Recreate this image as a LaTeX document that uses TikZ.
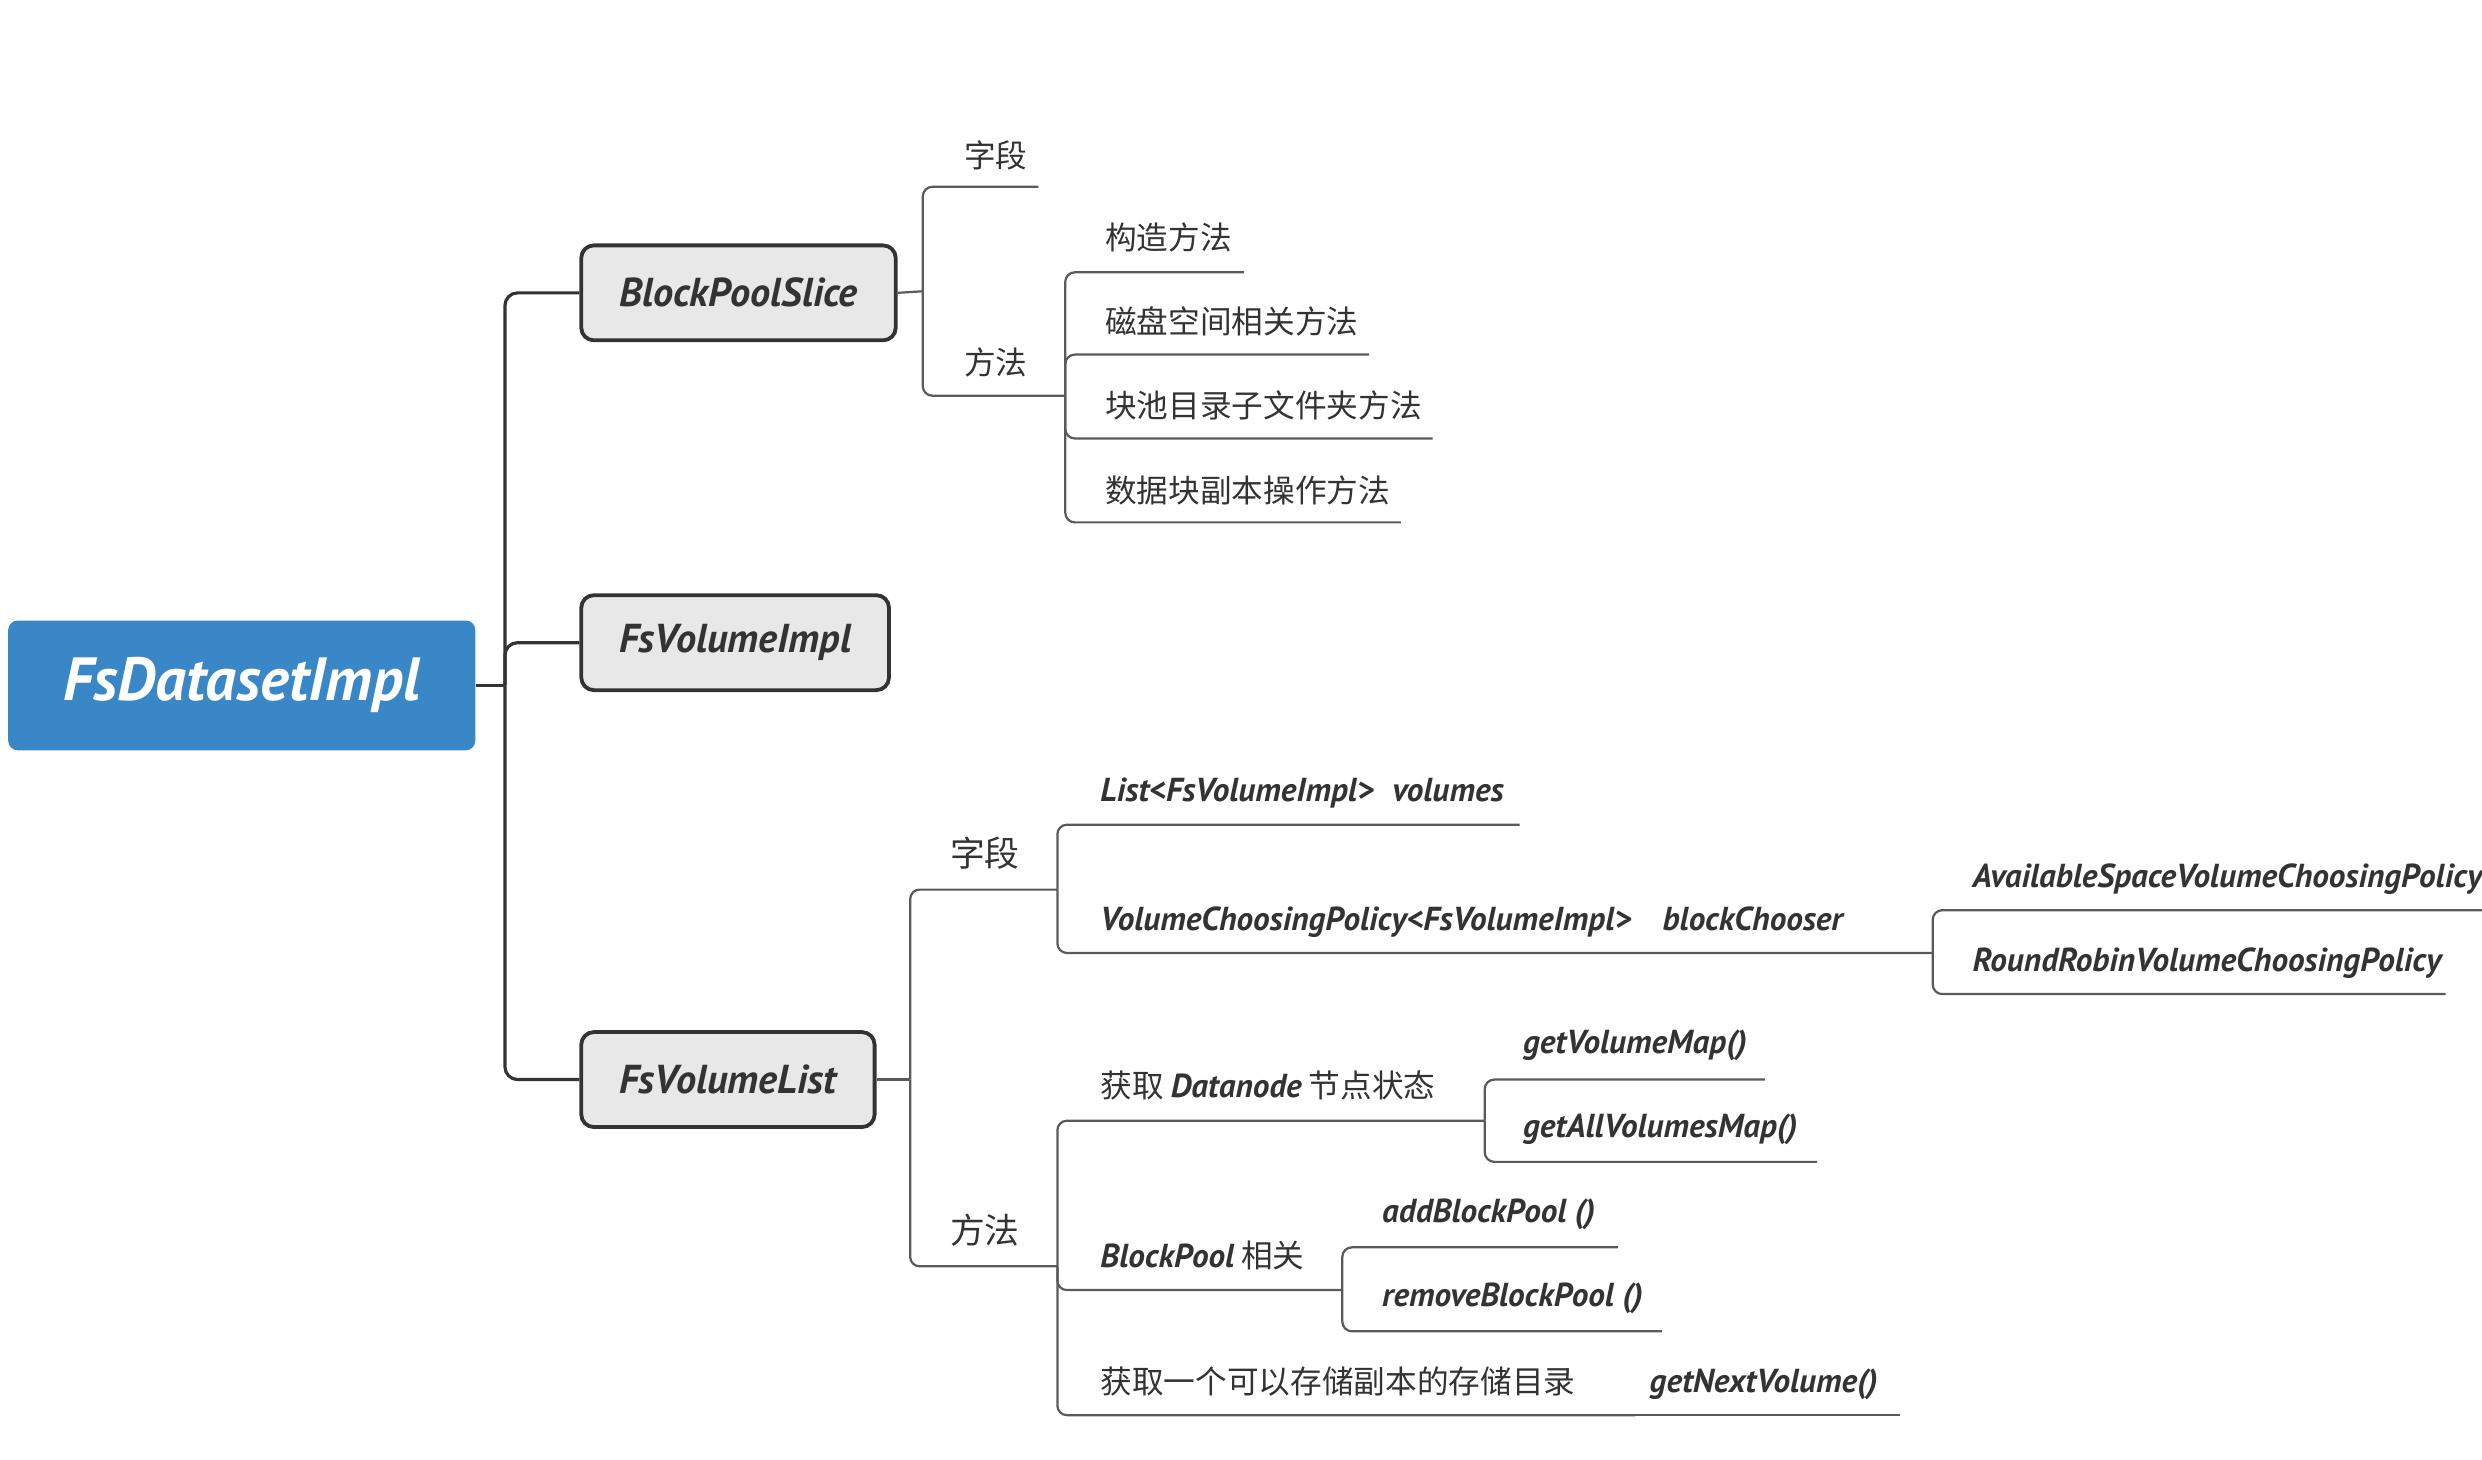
\documentclass[tikz,border=0pt]{standalone}
\usepackage{fontspec}
\setmainfont{PT Sans}
\newfontfamily\cjk{Noto Sans CJK SC}
\usetikzlibrary{positioning}
\definecolor{rootblue}{HTML}{3A87C8}
\definecolor{boxgray}{HTML}{E8E8E8}
\definecolor{linedark}{HTML}{333333}
\definecolor{linegray}{HTML}{5A5A5A}
\definecolor{textdark}{HTML}{333333}
\newcommand{\code}{\normalfont\bfseries\itshape}

\begin{document}
\begin{tikzpicture}[x=1pt,y=-1pt]
\tikzstyle{rootbox}=[fill=rootblue,rounded corners=6pt,text=white,inner xsep=35pt,
  minimum height=82pt,font=\code\fontsize{38.5}{44}\selectfont]
\tikzstyle{classbox}=[fill=boxgray,draw=linedark,line width=2.4pt,rounded corners=8pt,
  text=textdark,inner xsep=24pt,minimum height=60pt,font=\code\fontsize{25.5}{30}\selectfont]
\tikzstyle{zh}=[anchor=west,inner sep=0pt,yshift=-5pt,text=textdark,text height=0.72em,
  text depth=0.2em,font=\cjk\fontsize{20}{24}\selectfont]
\tikzstyle{member}=[anchor=west,inner sep=0pt,yshift=-4pt,text=textdark,text height=0.72em,
  text depth=0.2em,font=\code\fontsize{21}{24}\selectfont]
\tikzstyle{trunk}=[draw=linedark,line width=2pt,rounded corners=8pt]
\tikzstyle{twig}=[draw=linegray,line width=1.4pt,rounded corners=6pt]
\useasboundingbox (0,0) rectangle (1568,922);

% main topic and classes
\node[rootbox,anchor=west] (fsd) at (5,433) {FsDatasetImpl};
\node[classbox,anchor=west] (bps) at (366,185) {BlockPoolSlice};
\node[classbox,anchor=west] (fvi) at (366,406) {FsVolumeImpl};
\node[classbox,anchor=west] (fvl) at (366,682) {FsVolumeList};

% BlockPoolSlice
\node[zh] (bpsf) at (609,98) {字段};
\node[zh] (bpsm) at (609,229) {方法};
\node[zh] (gz) at (698,150) {构造方法};
\node[zh] (cp) at (698,203) {磁盘空间相关方法};
\node[zh] (kc) at (698,256) {块池目录子文件夹方法};
\node[zh] (sj) at (698,310) {数据块副本操作方法};

% FsVolumeList
\node[zh,font=\cjk\fontsize{22}{26}\selectfont] (fvlf) at (600,540) {字段};
\node[zh,font=\cjk\fontsize{22}{26}\selectfont] (fvlm) at (600,778) {方法};
\node[member] (lv) at (695,500) {List<FsVolumeImpl>\hspace{12pt}volumes};
\node[member] (vc) at (695,581) {VolumeChoosingPolicy<FsVolumeImpl>\hspace{20pt}blockChooser};
\node[member] (as) at (1246,554) {AvailableSpaceVolumeChoosingPolicy};
\node[member] (rr) at (1246,607) {RoundRobinVolumeChoosingPolicy};
\node[zh] (dn) at (695,686) {获取 {\code\fontsize{21}{24}\selectfont Datanode} 节点状态};
\node[member] (gv) at (962,659) {getVolumeMap()};
\node[member] (ga) at (962,712) {getAllVolumesMap()};
\node[zh] (bp) at (695,793) {{\code\fontsize{21}{24}\selectfont BlockPool} 相关};
\node[member] (ab) at (873,766) {addBlockPool ()};
\node[member] (rb) at (873,819) {removeBlockPool ()};
\node[zh] (nx) at (695,873) {获取一个可以存储副本的存储目录};
\node[member] (gn) at (1042,873) {getNextVolume()};

% ends of the underlines
\coordinate (fsd-j) at (319,433);
\coordinate (bps-j) at (583,184);
\coordinate (fvl-j) at (575,682);
\coordinate (bpsf-e) at (656,118);
\coordinate (bpsm-e) at (673,250);
\coordinate (gz-e) at (786,172);
\coordinate (cp-e) at (865,224);
\coordinate (kc-e) at (905,277);
\coordinate (sj-e) at (885,330);
\coordinate (fvlf-e) at (668,562);
\coordinate (fvlm-e) at (668,800);
\coordinate (lv-e) at (960,521);
\coordinate (vc-e) at (1221,602);
\coordinate (as-e) at (1568,575);
\coordinate (rr-e) at (1545,628);
\coordinate (dn-e) at (938,708);
\coordinate (gv-e) at (1115,682);
\coordinate (ga-e) at (1148,734);
\coordinate (bp-e) at (848,815);
\coordinate (ab-e) at (1022,788);
\coordinate (rb-e) at (1050,841);
\coordinate (nx-e) at (1033,894);
\coordinate (gn-e) at (1200,894);

% connectors
\draw[trunk] (fsd.east) -- (fsd-j);
\foreach \n in {bps,fvi,fvl}
  \draw[trunk] (fsd-j) |- (\n.west);
\draw[twig] (bps.east) -- (bps-j);
\draw[twig] (fvl.east) -- (fvl-j);
\foreach \p/\c in {bps-j/bpsf-e,bps-j/bpsm-e,bpsm-e/gz-e,bpsm-e/cp-e,bpsm-e/kc-e,bpsm-e/sj-e,
  fvl-j/fvlf-e,fvl-j/fvlm-e,fvlf-e/lv-e,fvlf-e/vc-e,vc-e/as-e,vc-e/rr-e,
  fvlm-e/dn-e,fvlm-e/bp-e,fvlm-e/nx-e,dn-e/gv-e,dn-e/ga-e,bp-e/ab-e,bp-e/rb-e}
  \draw[twig] (\p) |- (\c);
\draw[twig] (nx-e) -- (gn-e);
\end{tikzpicture}
\end{document}
